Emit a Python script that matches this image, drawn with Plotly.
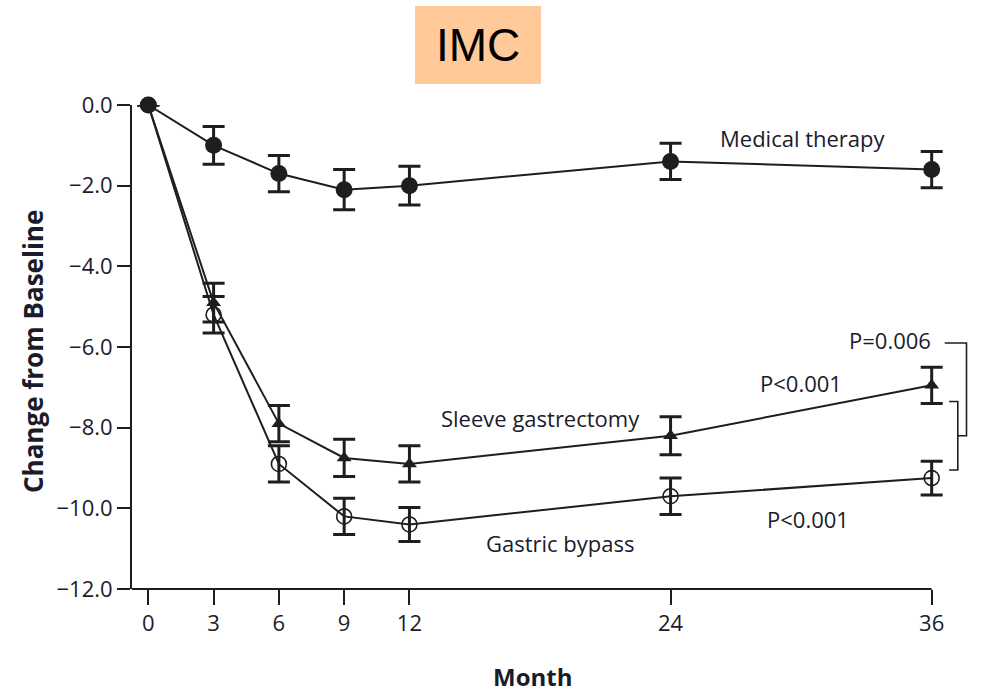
import math
import plotly.graph_objects as go

# Months of follow-up
months = [0, 3, 6, 9, 12, 24, 36]

# Mean change from baseline and error half-widths per group
medical = [0.0, -1.0, -1.7, -2.1, -2.0, -1.4, -1.6]
medical_err = [math.nan, 0.47, 0.45, 0.5, 0.48, 0.45, 0.45]

sleeve = [0.0, -4.9, -7.9, -8.75, -8.9, -8.2, -6.95]
sleeve_err = [math.nan, 0.48, 0.45, 0.46, 0.45, 0.47, 0.45]

bypass = [0.0, -5.2, -8.9, -10.2, -10.4, -9.7, -9.25]
bypass_err = [math.nan, 0.45, 0.45, 0.45, 0.42, 0.45, 0.42]

x_ticks = [0, 3, 6, 9, 12, 24, 36]
y_ticks = [0, -2, -4, -6, -8, -10, -12]

X_RANGE = [-0.75, 36.75]
Y_RANGE = [-12, 0]

# plot area in pixels
L, R, T, B = 132, 948, 105, 589
W, H = 981, 694

INK = "#1e1e1e"
TXT = "#1b1b2b"
FONT = "'Open Sans', Lato, sans-serif"

fig = go.Figure()


def add_group(y, err, symbol, size, line_w=0):
    fig.add_trace(go.Scatter(
        x=months, y=y, mode="lines+markers",
        line=dict(color=INK, width=2),
        marker=dict(symbol=symbol, size=size, color=INK,
                    line=dict(color=INK, width=line_w)),
        error_y=dict(type="data", array=err, visible=True,
                     color=INK, thickness=3, width=11),
        cliponaxis=False, showlegend=False,
    ))


add_group(bypass, bypass_err, "circle-open", 15, 1.6)
add_group(sleeve, sleeve_err, "triangle-up", 13)
add_group(medical, medical_err, "circle", 17)


def py(v):
    """Value on the y axis -> paper fraction."""
    return (v - Y_RANGE[0]) / (Y_RANGE[1] - Y_RANGE[0])


def px(m):
    """Month on the x axis -> paper fraction."""
    return (m - X_RANGE[0]) / (X_RANGE[1] - X_RANGE[0])


def fx(p):
    return (p - L) / (R - L)


def fy(p):
    return (B - p) / (B - T)


bl = dict(color=INK, width=1.6)
inner_top, inner_bot = -7.35, -9.05
inner_mid = (inner_top + inner_bot) / 2
outer_top = -5.9
shapes = [
    # x axis baseline, ending at the last tick
    dict(type="line", xref="paper", yref="paper",
         x0=0, x1=px(36), y0=0, y1=0, line=dict(color=INK, width=2)),
    # inner bracket (sleeve vs bypass)
    dict(type="path", xref="paper", yref="paper", line=bl,
         path=f"M {px(36.8)} {py(inner_top)} L {px(37.2)} {py(inner_top)} "
              f"L {px(37.2)} {py(inner_bot)} L {px(36.8)} {py(inner_bot)}"),
    # outer bracket linking P=0.006 to the inner bracket
    dict(type="path", xref="paper", yref="paper", line=bl,
         path=f"M {px(36.6)} {py(outer_top)} L {px(37.6)} {py(outer_top)} "
              f"L {px(37.6)} {py(inner_mid)} L {px(37.2)} {py(inner_mid)}"),
    # title box
    dict(type="rect", xref="paper", yref="paper", layer="below",
         x0=fx(415), x1=fx(541), y0=fy(84), y1=fy(6),
         fillcolor="#FFC999", line=dict(width=0)),
]

lab = dict(family=FONT, size=22, color=TXT)
annotations = [
    dict(text="IMC", xref="paper", yref="paper", x=fx(478), y=fy(45),
         xanchor="center", yanchor="middle", showarrow=False,
         font=dict(family="'Liberation Sans', Arial, sans-serif", size=46, color="#000")),
    dict(text="Medical therapy", x=30.1, y=-0.82, showarrow=False, font=lab),
    dict(text="Sleeve gastrectomy", x=18.0, y=-7.77, showarrow=False, font=lab),
    dict(text="Gastric bypass", x=18.9, y=-10.87, showarrow=False, font=lab),
    dict(text="P<0.001", x=30.0, y=-6.9, showarrow=False, font=lab),
    dict(text="P<0.001", x=30.3, y=-10.27, showarrow=False, font=lab),
    dict(text="P=0.006", x=34.1, y=-5.83, showarrow=False, font=lab),
    dict(text="<b>Change from Baseline</b>", xref="paper", yref="paper",
         x=fx(33), y=fy(352), xanchor="center", yanchor="middle",
         textangle=-90, showarrow=False,
         font=dict(family=FONT, size=26, color=TXT)),
    dict(text="<b>Month</b>", xref="paper", yref="paper",
         x=fx(532), y=fy(676), xanchor="center", yanchor="middle", showarrow=False,
         font=dict(family=FONT, size=24, color=TXT)),
]

tick_font = dict(family=FONT, size=22, color=TXT)
fig.update_layout(
    width=W, height=H,
    margin=dict(l=L, r=W - R, t=T, b=H - B),
    paper_bgcolor="white", plot_bgcolor="white",
    shapes=shapes, annotations=annotations,
    xaxis=dict(range=X_RANGE, tickvals=x_ticks, ticktext=[str(t) for t in x_ticks],
               showgrid=False, zeroline=False, showline=False,
               ticks="outside", ticklen=15, tickwidth=1.5,
               tickcolor=INK, tickfont=tick_font),
    yaxis=dict(range=Y_RANGE, tickvals=y_ticks, tickformat=".1f",
               showgrid=False, zeroline=False, showline=True, linecolor=INK,
               linewidth=2, ticks="outside", ticklen=13, tickwidth=1.5,
               tickcolor=INK, tickfont=tick_font),
)

fig.write_html("out.html")
